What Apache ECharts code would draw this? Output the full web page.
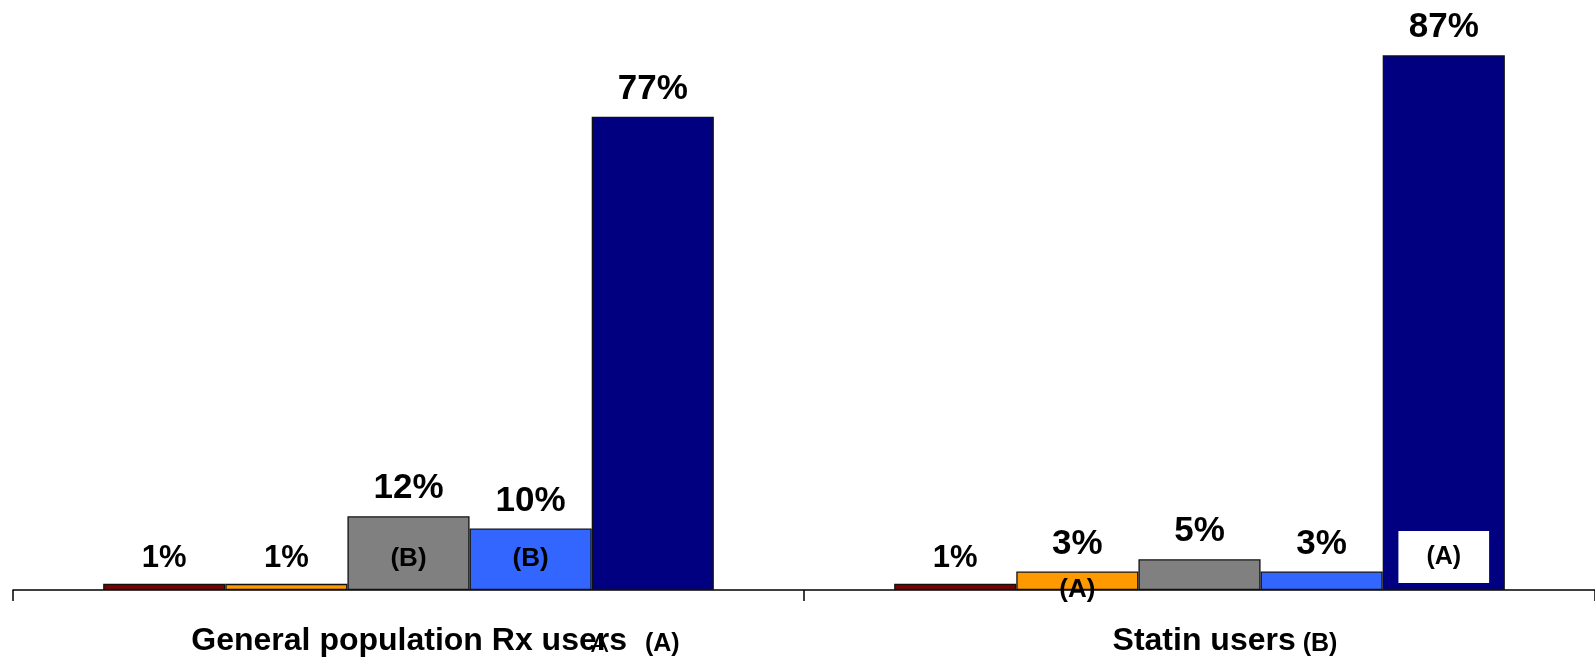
<!DOCTYPE html>
<html>
<head>
<meta charset="utf-8">
<style>
  html, body { margin: 0; padding: 0; background: #ffffff; }
  #chart { width: 1595px; height: 657px; }
</style>
<script src="https://cdn.jsdelivr.net/npm/echarts@6/dist/echarts.min.js"></script>
</head>
<body>
<div id="chart"></div>
<script>
// ---- data ----
const categories = ['General population Rx users', 'Statin users'];
const categorySuffix = ['(A)', '(B)'];
const seriesNames = ['Series 1', 'Series 2', 'Series 3', 'Series 4', 'Series 5'];
const seriesColors = ['#800000', '#FF9900', '#808080', '#3366FF', '#000080'];
const series1 = [1, 1];
const series2 = [1, 3];
const series3 = [12, 5];
const series4 = [10, 3];
const series5 = [77, 87];
const annot1 = ['', ''];
const annot2 = ['', '(A)'];
const annot3 = ['(B)', ''];
const annot4 = ['(B)', ''];
const annot5 = ['', '(A)'];

const seriesValues = [series1, series2, series3, series4, series5];
const seriesAnnots = [annot1, annot2, annot3, annot4, annot5];

const FONT = '"Liberation Sans", Arial, Helvetica, sans-serif';
const GAP = '22.8%';

// per-annotation placement (styling only)
function annotLabel(s, c, text) {
  const base = { show: text !== '', formatter: text, color: '#000', fontFamily: FONT, fontWeight: 'bold', fontSize: 26 };
  if (s === 4) {
    return Object.assign(base, { position: 'insideBottom', distance: 7, fontSize: 25, backgroundColor: '#ffffff', padding: [13, 28, 13, 28], lineHeight: 26 });
  }
  if (c === 1) {
    return Object.assign(base, { position: 'insideTop', distance: 5 });
  }
  return Object.assign(base, { position: 'insideBottom', distance: 18 });
}

const mainSeries = seriesValues.map((vals, s) => ({
  name: seriesNames[s],
  type: 'bar',
  xAxisIndex: 0,
  barGap: '0%',
  barCategoryGap: GAP,
  itemStyle: { color: seriesColors[s], borderColor: '#111', borderWidth: 1.3 },
  data: vals.map(v => ({
    value: v,
    label: {
      show: true, position: 'top', distance: 10,
      formatter: v + '%', color: '#000', fontFamily: FONT, fontWeight: 'bold',
      fontSize: v < 2 ? 31 : 35
    }
  })),
  z: 2
}));

const annotSeries = seriesValues.map((vals, s) => ({
  name: seriesNames[s] + ' note',
  type: 'bar',
  xAxisIndex: 1,
  barGap: '0%',
  barCategoryGap: GAP,
  itemStyle: { color: 'rgba(0,0,0,0)', borderWidth: 0 },
  silent: true,
  data: vals.map((v, c) => ({ value: v, label: annotLabel(s, c, seriesAnnots[s][c]) })),
  z: 3
}));

const option = {
  animation: false,
  backgroundColor: '#ffffff',
  grid: { left: 13, width: 1586, top: 0, bottom: 67, containLabel: false },
  xAxis: [
    {
      type: 'category',
      data: categories,
      axisLine: { show: true, lineStyle: { color: '#000', width: 1.5 } },
      axisTick: { show: true, length: 11, lineStyle: { color: '#000', width: 1.5 } },
      axisLabel: {
        margin: 35,
        interval: 0,
        formatter: (val, idx) => '{pad' + idx + '|}{main|' + val + '}{gap' + idx + '|}{sfx|' + categorySuffix[idx] + '}',
        rich: {
          pad0: { width: 54, lineHeight: 32 },
          pad1: { width: 51, lineHeight: 32 },
          main: { fontSize: 32, fontWeight: 'bold', fontFamily: FONT, color: '#000', lineHeight: 32, verticalAlign: 'bottom' },
          gap0: { width: 18, lineHeight: 32 },
          gap1: { width: 7, lineHeight: 32 },
          sfx: { fontSize: 25, fontWeight: 'bold', fontFamily: FONT, color: '#000', lineHeight: 32, verticalAlign: 'bottom' }
        }
      }
    },
    {
      type: 'category',
      data: categories,
      show: false
    }
  ],
  yAxis: { type: 'value', min: 0, max: 96, show: false, splitLine: { show: false } },
  series: mainSeries.concat(annotSeries),
  graphic: [
    {
      type: 'text',
      left: 591, top: 632,
      style: { text: 'A', fontSize: 26, fontFamily: FONT, fill: '#000' },
      z: 10
    }
  ]
};

const chart = echarts.init(document.getElementById('chart'), null, { renderer: 'canvas' });
chart.setOption(option);
</script>
</body>
</html>
